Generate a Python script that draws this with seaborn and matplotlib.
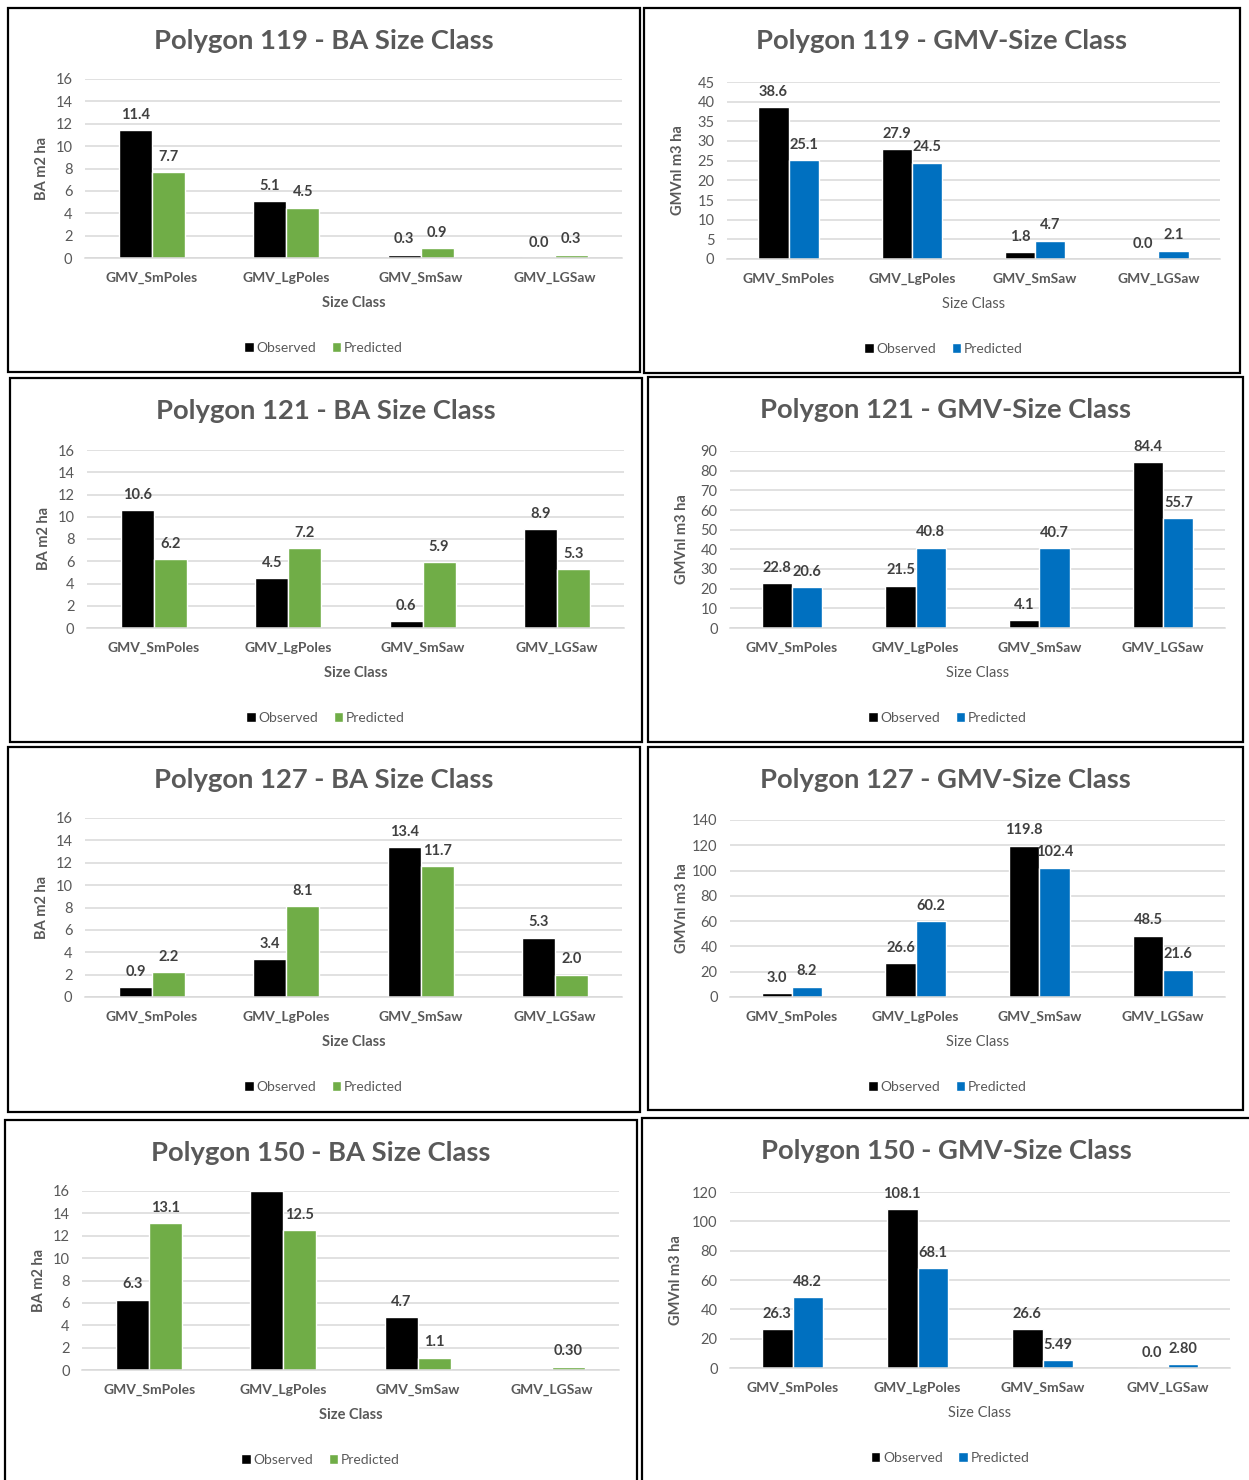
import matplotlib
matplotlib.use("Agg")
import matplotlib.pyplot as plt
from matplotlib.patches import Rectangle
import seaborn as sns
import pandas as pd

# ---- data -------------------------------------------------------------
size_classes = ["GMV_SmPoles", "GMV_LgPoles", "GMV_SmSaw", "GMV_LGSaw"]
series_names = ["Observed", "Predicted"]

ba_119_obs = [11.4, 5.1, 0.3, 0.0]
ba_119_pred = [7.7, 4.5, 0.9, 0.3]
gmv_119_obs = [38.6, 27.9, 1.8, 0.0]
gmv_119_pred = [25.1, 24.5, 4.7, 2.1]

ba_121_obs = [10.6, 4.5, 0.6, 8.9]
ba_121_pred = [6.2, 7.2, 5.9, 5.3]
gmv_121_obs = [22.8, 21.5, 4.1, 84.4]
gmv_121_pred = [20.6, 40.8, 40.7, 55.7]

ba_127_obs = [0.9, 3.4, 13.4, 5.3]
ba_127_pred = [2.2, 8.1, 11.7, 2.0]
gmv_127_obs = [3.0, 26.6, 119.8, 48.5]
gmv_127_pred = [8.2, 60.2, 102.4, 21.6]

ba_150_obs = [6.3, 16.0, 4.7, 0.0]
ba_150_pred = [13.1, 12.5, 1.1, 0.30]
gmv_150_obs = [26.3, 108.1, 26.6, 0.0]
gmv_150_pred = [48.2, 68.1, 5.49, 2.80]

# label text where the default one-decimal format is not used
ba_150_obs_labels = ["6.3", "", "4.7", ""]
ba_150_pred_labels = ["13.1", "12.5", "1.1", "0.30"]
gmv_150_pred_labels = ["48.2", "68.1", "5.49", "2.80"]

# ---- style ------------------------------------------------------------
W, H = 1249, 1480
sns.set_theme(style="white")
plt.rcParams["font.family"] = ["Lato", "DejaVu Sans"]

TEXT = "#595959"
LABEL = "#404040"
GRID = "#D9D9D9"
GREEN = "#70AD47"
BLUE = "#0070C0"

fig = plt.figure(figsize=(W / 100, H / 100), dpi=100)
fig.patch.set_facecolor("white")


def fx(x):
    return x / W


def fy(y):
    return 1 - y / H


panels = [
    # title, obs, pred, obs_labels, pred_labels, color, ylabel, ymax, step,
    # frame (x0,y0,x1,y1), plot (x0,y0,x1,y1), bold xlabel
    ("Polygon 119 - BA Size Class", ba_119_obs, ba_119_pred, None, None, GREEN,
     "BA m2 ha", 16, 2, (8, 8, 640, 372), (85, 79, 622, 258), True),
    ("Polygon 119 - GMV-Size Class", gmv_119_obs, gmv_119_pred, None, None, BLUE,
     "GMVnl m3 ha", 45, 5, (644, 8, 1240, 373), (727, 82, 1220, 259), False),
    ("Polygon 121 - BA Size Class", ba_121_obs, ba_121_pred, None, None, GREEN,
     "BA m2 ha", 16, 2, (10, 378, 642, 742), (87, 450, 624, 628), True),
    ("Polygon 121 - GMV-Size Class", gmv_121_obs, gmv_121_pred, None, None, BLUE,
     "GMVnl m3 ha", 90, 10, (648, 377, 1243, 742), (730, 451, 1225, 628), False),
    ("Polygon 127 - BA Size Class", ba_127_obs, ba_127_pred, None, None, GREEN,
     "BA m2 ha", 16, 2, (8, 747, 640, 1112), (85, 818, 622, 997), True),
    ("Polygon 127 - GMV-Size Class", gmv_127_obs, gmv_127_pred, None, None, BLUE,
     "GMVnl m3 ha", 140, 20, (648, 747, 1243, 1110), (730, 820, 1225, 997), False),
    ("Polygon 150 - BA Size Class", ba_150_obs, ba_150_pred, ba_150_obs_labels,
     ba_150_pred_labels, GREEN, "BA m2 ha", 16, 2, (5, 1120, 637, 1482),
     (82, 1191, 619, 1370), True),
    ("Polygon 150 - GMV-Size Class", gmv_150_obs, gmv_150_pred, None,
     gmv_150_pred_labels, BLUE, "GMVnl m3 ha", 120, 20, (642, 1118, 1251, 1482),
     (730, 1192, 1230, 1368), False),
]

for (title, obs, pred, obs_lab, pred_lab, color, ylabel, ymax, step,
     frame, plot, bold_x) in panels:
    # panel frame
    fx0, fy0, fx1, fy1 = frame
    fig.patches.append(Rectangle((fx(fx0), fy(fy1)), fx(fx1 - fx0), (fy1 - fy0) / H,
                                 transform=fig.transFigure, fill=False,
                                 edgecolor="black", linewidth=1.6, zorder=0))

    px0, py0, px1, py1 = plot
    ax = fig.add_axes([fx(px0), fy(py1), fx(px1 - px0), (py1 - py0) / H])

    df = pd.DataFrame({
        "Size Class": size_classes * 2,
        "value": list(obs) + list(pred),
        "Series": [series_names[0]] * 4 + [series_names[1]] * 4,
    })
    sns.barplot(data=df, x="Size Class", y="value", hue="Series",
                order=size_classes, hue_order=series_names,
                palette=["black", color], width=0.49, gap=0,
                saturation=1, ax=ax, legend=True)

    ax.set_xlim(-0.5, 3.5)
    ax.set_ylim(0, ymax)
    ax.set_yticks(range(0, ymax + 1, step))
    ax.yaxis.grid(True, color=GRID, linewidth=1.1)
    ax.set_axisbelow(True)
    for side in ["top", "right", "left"]:
        ax.spines[side].set_visible(False)
    ax.spines["bottom"].set_color(GRID)
    ax.spines["bottom"].set_linewidth(1.1)
    ax.tick_params(axis="both", length=0)
    ax.tick_params(axis="y", pad=9, labelsize=10.5, labelcolor=TEXT)
    ax.tick_params(axis="x", pad=10, labelsize=10, labelcolor=TEXT)
    for lbl in ax.get_xticklabels():
        lbl.set_fontweight("bold")
    ax.set_xlabel("")
    ax.set_ylabel("")

    # data labels
    label_sets = [
        obs_lab if obs_lab is not None else [f"{v:.1f}" for v in obs],
        pred_lab if pred_lab is not None else [f"{v:.1f}" for v in pred],
    ]
    for container, labels in zip(ax.containers, label_sets):
        ax.bar_label(container, labels=labels, padding=6, fontsize=10.5,
                     fontweight="bold", color=LABEL)

    # title and axis titles
    cx = (fx0 + fx1) / 2
    fig.text(fx(cx), fy(fy0 + 33), title, ha="center", va="center",
             fontsize=19.7, fontweight="bold", color=TEXT)
    fig.text(fx((px0 + px1) / 2), fy(py1 + 45), "Size Class", ha="center",
             va="center", fontsize=10.5, color=TEXT,
             fontweight="bold" if bold_x else "normal")
    fig.text(fx(fx0 + 34), fy((py0 + py1) / 2), ylabel, ha="center",
             va="center", rotation=90, fontsize=10.5, fontweight="bold",
             color=TEXT)

    # legend under the plot area
    sns.move_legend(ax, "center",
                    bbox_to_anchor=(fx((px0 + px1) / 2 - 30), fy(py1 + 90)),
                    bbox_transform=fig.transFigure, ncol=2, title=None,
                    frameon=False, fontsize=10, handlelength=0.7,
                    handleheight=0.7, handletextpad=0.2, columnspacing=1.1,
                    labelcolor=TEXT)

fig.savefig("out.png", dpi=100, facecolor="white")
